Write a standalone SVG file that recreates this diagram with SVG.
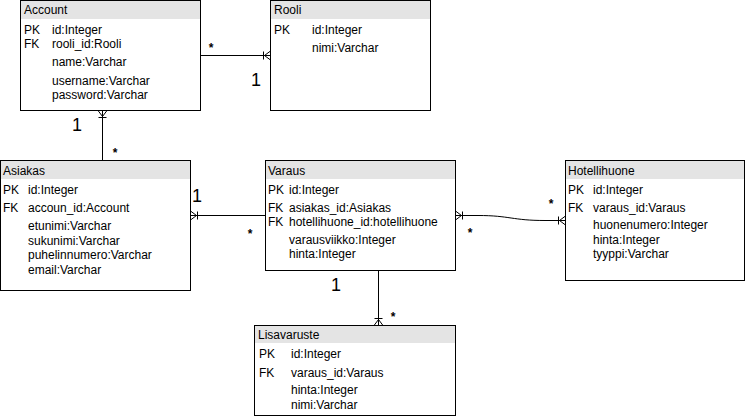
<svg xmlns="http://www.w3.org/2000/svg" width="746" height="416" viewBox="0 0 746 416">
<style>
  .box { fill: #ffffff; stroke: #000000; stroke-width: 1; }
  .hdr { fill: #e4e4e4; stroke: none; }
  .t { font-family: "Liberation Sans", Arial, sans-serif; font-size: 12px; fill: #000000; }
  .one { font-family: "Liberation Sans", Arial, sans-serif; font-size: 18px; fill: #000000; text-anchor: middle; }
  .star { font-family: "Liberation Sans", Arial, sans-serif; font-size: 12px; font-weight: bold; fill: #000000; text-anchor: middle; }
  .ln { fill: none; stroke: #000000; stroke-width: 1; }
</style>
<rect width="746" height="416" fill="#ffffff"/>

<g id="connectors">
  <!-- Account - Rooli -->
  <path class="ln" d="M200.5,55.5 H270.5"/>
  <path class="ln" d="M263.5,51.5 V59.5 M264.5,55.5 L270.5,51 M264.5,55.5 L270.5,60"/>
  <!-- Account - Asiakas -->
  <path class="ln" d="M102.5,110.5 V160.5"/>
  <path class="ln" d="M98.5,117.5 H106.5 M102.5,116.5 L98,110.5 M102.5,116.5 L107,110.5"/>
  <!-- Asiakas - Varaus -->
  <path class="ln" d="M190.5,215.5 H265.5"/>
  <path class="ln" d="M197.5,211.5 V219.5 M196.5,215.5 L190.5,211 M196.5,215.5 L190.5,220"/>
  <!-- Varaus - Hotellihuone -->
  <path class="ln" d="M455.5,215.5 L478,215.5 C510,215.5 512,220.5 545,220.5 L565.5,220.5"/>
  <path class="ln" d="M462.5,211.5 V219.5 M461.5,215.5 L455.5,211 M461.5,215.5 L455.5,220"/>
  <path class="ln" d="M558.5,216.5 V224.5 M559.5,220.5 L565.5,216 M559.5,220.5 L565.5,225"/>
  <!-- Varaus - Lisavaruste -->
  <path class="ln" d="M378.5,270.5 V325.5"/>
  <path class="ln" d="M374.5,318.5 H382.5 M378.5,319.5 L374,325.5 M378.5,319.5 L383,325.5"/>

  <text class="star" x="211" y="52">*</text>
  <text class="one" x="256" y="86">1</text>
  <text class="one" x="77" y="131">1</text>
  <text class="star" x="115" y="157">*</text>
  <text class="one" x="197" y="202">1</text>
  <text class="star" x="250" y="238">*</text>
  <text class="star" x="470" y="237">*</text>
  <text class="star" x="551" y="208">*</text>
  <text class="one" x="336" y="291">1</text>
  <text class="star" x="393" y="321">*</text>
</g>

<g id="account">
  <rect class="box" x="20.5" y="0.5" width="180" height="110"/>
  <rect class="hdr" x="21" y="1" width="179" height="18"/>
  <text class="t" x="24" y="14">Account</text>
  <text class="t" x="24" y="34">PK</text><text class="t" x="52" y="34">id:Integer</text>
  <text class="t" x="24" y="48">FK</text><text class="t" x="52" y="48">rooli_id:Rooli</text>
  <text class="t" x="52" y="66">name:Varchar</text>
  <text class="t" x="52" y="85">username:Varchar</text>
  <text class="t" x="52" y="99">password:Varchar</text>
</g>

<g id="rooli">
  <rect class="box" x="270.5" y="0.5" width="160" height="110"/>
  <rect class="hdr" x="271" y="1" width="159" height="18"/>
  <text class="t" x="274" y="14">Rooli</text>
  <text class="t" x="274" y="34">PK</text><text class="t" x="312" y="34">id:Integer</text>
  <text class="t" x="312" y="52">nimi:Varchar</text>
</g>

<g id="asiakas">
  <rect class="box" x="0.5" y="160.5" width="190" height="130"/>
  <rect class="hdr" x="1" y="161" width="189" height="18"/>
  <text class="t" x="3" y="175">Asiakas</text>
  <text class="t" x="3" y="194">PK</text><text class="t" x="28" y="194">id:Integer</text>
  <text class="t" x="3" y="212">FK</text><text class="t" x="28" y="212">accoun_id:Account</text>
  <text class="t" x="28" y="230">etunimi:Varchar</text>
  <text class="t" x="28" y="245">sukunimi:Varchar</text>
  <text class="t" x="28" y="259">puhelinnumero:Varchar</text>
  <text class="t" x="28" y="274">email:Varchar</text>
</g>

<g id="varaus">
  <rect class="box" x="265.5" y="160.5" width="190" height="110"/>
  <rect class="hdr" x="266" y="161" width="189" height="18"/>
  <text class="t" x="268" y="175">Varaus</text>
  <text class="t" x="268" y="194">PK</text><text class="t" x="289" y="194">id:Integer</text>
  <text class="t" x="268" y="212">FK</text><text class="t" x="289" y="212">asiakas_id:Asiakas</text>
  <text class="t" x="268" y="226">FK</text><text class="t" x="289" y="226">hotellihuone_id:hotellihuone</text>
  <text class="t" x="289" y="244">varausviikko:Integer</text>
  <text class="t" x="289" y="258">hinta:Integer</text>
</g>

<g id="hotellihuone">
  <rect class="box" x="565.5" y="160.5" width="179" height="120"/>
  <rect class="hdr" x="566" y="161" width="178" height="18"/>
  <text class="t" x="568" y="175">Hotellihuone</text>
  <text class="t" x="568" y="194">PK</text><text class="t" x="593" y="194">id:Integer</text>
  <text class="t" x="568" y="212">FK</text><text class="t" x="593" y="212">varaus_id:Varaus</text>
  <text class="t" x="593" y="229">huonenumero:Integer</text>
  <text class="t" x="593" y="244">hinta:Integer</text>
  <text class="t" x="593" y="258">tyyppi:Varchar</text>
</g>

<g id="lisavaruste">
  <rect class="box" x="254.5" y="325.5" width="201" height="90"/>
  <rect class="hdr" x="255" y="326" width="200" height="17"/>
  <text class="t" x="258" y="339">Lisavaruste</text>
  <text class="t" x="259" y="358">PK</text><text class="t" x="291" y="358">id:Integer</text>
  <text class="t" x="259" y="377">FK</text><text class="t" x="291" y="377">varaus_id:Varaus</text>
  <text class="t" x="291" y="394">hinta:Integer</text>
  <text class="t" x="291" y="409">nimi:Varchar</text>
</g>
</svg>
